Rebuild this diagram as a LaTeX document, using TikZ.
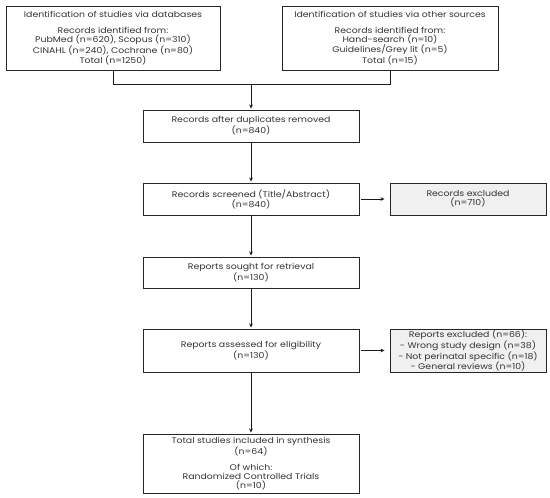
\documentclass[tikz,border=0pt]{standalone}
\usepackage{fontspec}
\setmainfont{Poppins}[FakeStretch=1.14]
\usetikzlibrary{arrows.meta}
\begin{document}
\begin{tikzpicture}[x=1pt,y=-1pt,
  box/.style={draw=black!85,line width=0.9pt,fill=white,align=center,inner sep=0pt,
    font=\fontsize{8.2}{8.7}\selectfont,text=black!80},
  exbox/.style={box,fill=black!6},
  arr/.style={line width=0.8pt,draw=black!90,-{Stealth[length=4pt,width=3.6pt]},shorten >=1pt},
  ln/.style={line width=0.8pt,draw=black!90}]
\useasboundingbox (0,0) rectangle (550,498);
\node[box,minimum width=214pt,minimum height=64pt] (db) at (113,38)
  {Identification of studies via databases\\[7.5pt]Records identified from:\\PubMed (n=620), Scopus (n=310)\\CINAHL (n=240), Cochrane (n=80)\\Total (n=1250)};
\node[box,minimum width=216pt,minimum height=64pt] (os) at (390,38)
  {Identification of studies via other sources\\[7.5pt]Records identified from:\\Hand-search (n=10)\\Guidelines/Grey lit (n=5)\\Total (n=15)};
\node[box,minimum width=216pt,minimum height=32pt] (dup) at (251,126)
  {Records after duplicates removed\\(n=840)};
\node[box,minimum width=216pt,minimum height=32pt] (scr) at (251,199)
  {Records screened (Title/Abstract)\\(n=840)};
\node[exbox,minimum width=156pt,minimum height=32pt] (ex1) at (468,199)
  {Records excluded\\(n=710)};
\node[box,minimum width=216pt,minimum height=31pt] (ret) at (251,272.5)
  {Reports sought for retrieval\\(n=130)};
\node[box,minimum width=216pt,minimum height=43pt] (elig) at (251,350.5)
  {Reports assessed for eligibility\\(n=130)};
\node[exbox,minimum width=156pt,minimum height=43pt] (ex2) at (468,350.5)
  {Reports excluded (n=66):\\- Wrong study design (n=38)\\- Not perinatal specific (n=18)\\- General reviews (n=10)};
\node[box,minimum width=216pt,minimum height=59pt] (inc) at (251,463.5)
  {Total studies included in synthesis\\(n=64)\\[8pt]Of which:\\Randomized Controlled Trials\\(n=10)};
\coordinate (jl) at (db.south |- 0,84);
\coordinate (jr) at (os.south |- 0,84);
\coordinate (jm) at (dup.north |- 0,84);
\draw[ln] (db.south) -- (jl) -- (jr) -- (os.south);
\draw[arr] (jm) -- (dup.north);
\draw[arr] (dup) -- (scr);
\draw[arr] (scr) -- (ret);
\draw[arr] (ret) -- (elig);
\draw[arr] (elig) -- (inc);
\draw[arr,shorten <=2pt,shorten >=5pt] (scr) -- (ex1);
\draw[arr,shorten <=2pt,shorten >=5pt] (elig) -- (ex2);
\end{tikzpicture}
\end{document}
